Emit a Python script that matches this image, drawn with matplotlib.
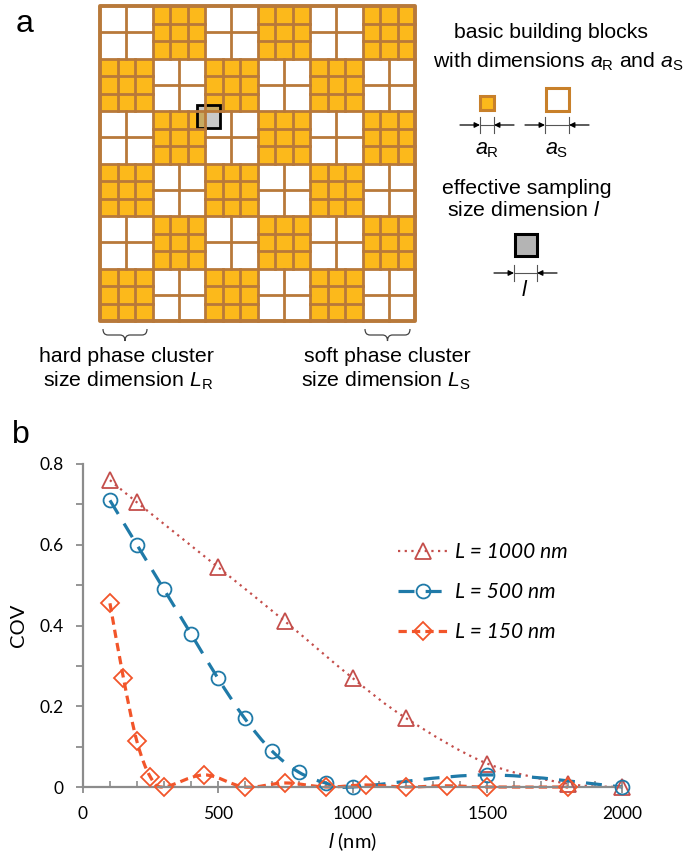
import matplotlib
matplotlib.use('Agg')
import matplotlib.pyplot as plt
from matplotlib.patches import Rectangle, PathPatch
from matplotlib.path import Path
from matplotlib.lines import Line2D
from matplotlib.ticker import MultipleLocator
import numpy as np

plt.rcParams['font.family'] = ['Liberation Sans', 'DejaVu Sans']
plt.rcParams['mathtext.fontset'] = 'custom'
plt.rcParams['mathtext.rm'] = 'Liberation Sans'
plt.rcParams['mathtext.it'] = 'Liberation Sans:italic'

# panel a: phase arrangement of the clusters (R = hard, S = soft)
phase_rows = ["SRSRSR", "RSRSRS", "SRSRSR", "RSRSRS", "SRSRSR", "RSRSRS"]
blocks_per_side = {'R': 3, 'S': 2}

# panel b: COV vs sampling size l
l_1000 = [100, 200, 500, 750, 1000, 1200, 1500, 1800, 2000]
cov_1000 = [0.76, 0.705, 0.545, 0.41, 0.27, 0.17, 0.058, 0.008, 0.0]
l_500 = [100, 200, 300, 400, 500, 600, 700, 800, 900, 1000, 1500, 2000]
cov_500 = [0.71, 0.60, 0.49, 0.38, 0.27, 0.17, 0.09, 0.037, 0.01, 0.0, 0.03, 0.0]
l_150 = [100, 150, 200, 250, 300, 450, 600, 750, 900, 1050, 1200, 1350, 1500, 1800]
cov_150 = [0.455, 0.27, 0.113, 0.025, 0.0, 0.03, 0.0, 0.01, 0.0, 0.005, 0.0, 0.003, 0.0, 0.0]
series_labels = ["L = 1000 nm", "L = 500 nm", "L = 150 nm"]

YELLOW = '#FCB91B'
BROWN = '#B8793A'
RED = '#C44E4B'
BLUE = '#1F7AA8'
ORANGE = '#F2552A'
AXIS_GRAY = '#8C8C8C'
TXT = 15.3

fig = plt.figure(figsize=(6.87, 8.64), dpi=100)

# overlay in pixel coordinates for the schematic
ov = fig.add_axes([0, 0, 1, 1])
ov.set_xlim(0, 687)
ov.set_ylim(864, 0)
ov.axis('off')

gx, gy, side = 100, 6, 315
n = len(phase_rows)
cell = side / n
for r, row in enumerate(phase_rows):
    for c, ph in enumerate(row):
        cx, cy = gx + c * cell, gy + r * cell
        ov.add_patch(Rectangle((cx, cy), cell, cell,
                               facecolor=YELLOW if ph == 'R' else 'white',
                               edgecolor='none'))
        k = blocks_per_side[ph]
        for i in range(1, k):
            ov.plot([cx + i * cell / k] * 2, [cy, cy + cell], color=BROWN, lw=2)
            ov.plot([cx, cx + cell], [cy + i * cell / k] * 2, color=BROWN, lw=2)
for i in range(1, n):
    ov.plot([gx + i * cell] * 2, [gy, gy + side], color=BROWN, lw=2)
    ov.plot([gx, gx + side], [gy + i * cell] * 2, color=BROWN, lw=2)
ov.add_patch(Rectangle((gx, gy), side, side, facecolor='none',
                       edgecolor=BROWN, lw=2.8, joinstyle='round'))

# sampling window on the grid
ov.add_patch(Rectangle((197, 105), 23, 23, facecolor=(0.62, 0.62, 0.62, 0.55),
                       edgecolor='black', lw=2))

ov.text(16, 32, 'a', fontsize=23, va='baseline')
ov.text(12, 443, 'b', fontsize=23, va='baseline')


def dimension(xa, xb, y):
    ov.plot([xa, xa], [y - 8, y + 8], color='#555555', lw=0.8)
    ov.plot([xb, xb], [y - 8, y + 8], color='#555555', lw=0.8)
    ov.plot([xa, xb], [y, y], color='#555555', lw=0.8)
    ov.annotate('', xy=(xa, y), xytext=(xa - 20, y),
                arrowprops=dict(arrowstyle='-|>', color='black', lw=0.9,
                                mutation_scale=8, shrinkA=0, shrinkB=0))
    ov.annotate('', xy=(xb, y), xytext=(xb + 20, y),
                arrowprops=dict(arrowstyle='-|>', color='black', lw=0.9,
                                mutation_scale=8, shrinkA=0, shrinkB=0))


def brace(x0, x1, ytop, ybot):
    xm = (x0 + x1) / 2
    ym = (ytop + ybot) / 2
    verts = [(x0, ytop), (x0, ym), (x0 + 5, ym), (xm - 5, ym), (xm, ym), (xm, ybot),
             (xm, ym), (xm + 5, ym), (x1 - 5, ym), (x1, ym), (x1, ytop)]
    codes = [Path.MOVETO, Path.CURVE3, Path.CURVE3, Path.LINETO, Path.CURVE3, Path.CURVE3,
             Path.CURVE3, Path.CURVE3, Path.LINETO, Path.CURVE3, Path.CURVE3]
    ov.add_patch(PathPatch(Path(verts, codes), facecolor='none',
                           edgecolor='#444444', lw=0.9))


# building block legend
ov.text(551, 32, 'basic building blocks', fontsize=TXT, ha='center', va='center')
ov.text(558, 62, r'with dimensions $a_\mathrm{R}$ and $a_\mathrm{S}$', fontsize=TXT,
        ha='center', va='center')
ov.add_patch(Rectangle((479.5, 95.5), 14, 14, facecolor=YELLOW, edgecolor='#C8802A', lw=2.2))
ov.add_patch(Rectangle((545.5, 88), 23, 23, facecolor='white', edgecolor='#C8802A', lw=2.2))
dimension(480, 494, 125)
dimension(545, 569, 125)
ov.text(487, 150, r'$a_\mathrm{R}$', fontsize=15.5, ha='center', va='center')
ov.text(557, 150, r'$a_\mathrm{S}$', fontsize=15.5, ha='center', va='center')

ov.text(527, 188, 'effective sampling', fontsize=TXT, ha='center', va='center')
ov.text(524, 211, r'size dimension $l$', fontsize=TXT, ha='center', va='center')
ov.add_patch(Rectangle((515, 234), 22, 22, facecolor='#B4B4B4', edgecolor='black', lw=2.2))
dimension(514, 537, 273)
ov.text(525, 291, r'$l$', fontsize=15.5, ha='center', va='center')

# cluster size labels
brace(103, 147, 329, 341)
brace(365, 410, 329, 341)
ov.text(126, 357, 'hard phase cluster', fontsize=TXT, ha='center', va='center')
ov.text(128, 381, r'size dimension $L_\mathrm{R}$', fontsize=TXT, ha='center', va='center')
ov.text(387, 357, 'soft phase cluster', fontsize=TXT, ha='center', va='center')
ov.text(386, 381, r'size dimension $L_\mathrm{S}$', fontsize=TXT, ha='center', va='center')

# panel b chart
ax = fig.add_axes([83 / 687, 77 / 864, 539 / 687, 323 / 864])
ax.patch.set_alpha(0)
ax.set_xlim(0, 2000)
ax.set_ylim(0, 0.8)


def smooth_path(x, y):
    pts = np.column_stack([x, y]).astype(float)
    verts, codes = [pts[0]], [Path.MOVETO]
    last = len(pts) - 1
    for i in range(last):
        p0, p1 = pts[max(i - 1, 0)], pts[i]
        p2, p3 = pts[i + 1], pts[min(i + 2, last)]
        verts += [p1 + (p2 - p0) / 6, p2 - (p3 - p1) / 6, p2]
        codes += [Path.CURVE4] * 3
    return Path(verts, codes)


styles = [
    (l_1000, cov_1000, RED, (0, (1, 2)), 1.6, '^', 11),
    (l_500, cov_500, BLUE, (0, (5, 3.5)), 2.3, 'o', 10),
    (l_150, cov_150, ORANGE, (0, (2.6, 1.6)), 2.3, 'D', 9),
]
handles = []
for (xs, ys, col, ls, lw, mk, ms), lab in zip(styles, series_labels):
    ax.add_patch(PathPatch(smooth_path(xs, ys), facecolor='none', edgecolor=col,
                           lw=lw, linestyle=ls, clip_on=False, zorder=2))
    ax.plot(xs, ys, ls='none', marker=mk, ms=ms, mfc='none', mec=col, mew=1.3,
            clip_on=False, zorder=3)
    handles.append(Line2D([], [], color=col, ls=ls, lw=lw, marker=mk, ms=ms,
                          mfc='none', mec=col, mew=1.3, label=lab))

ax.legend(handles=handles, loc='upper left', bbox_to_anchor=(0.565, 0.79),
          frameon=False, borderpad=0, handlelength=2.4, handletextpad=0.35,
          labelspacing=0.95, prop={'family': ['Lato', 'DejaVu Sans'],
                                   'style': 'italic', 'size': 15})

for s in ('top', 'right'):
    ax.spines[s].set_visible(False)
for s in ('left', 'bottom'):
    ax.spines[s].set_color(AXIS_GRAY)
    ax.spines[s].set_linewidth(1.6)

ax.set_xticks([0, 500, 1000, 1500, 2000])
ax.xaxis.set_minor_locator(MultipleLocator(100))
ax.set_yticks([0, 0.2, 0.4, 0.6, 0.8])
ax.set_yticklabels(['0', '0.2', '0.4', '0.6', '0.8'])
ax.yaxis.set_minor_locator(MultipleLocator(0.1))
ax.tick_params(axis='x', which='major', direction='inout', length=9, width=1.3,
               color=AXIS_GRAY, pad=9, labelsize=12.5)
ax.tick_params(axis='x', which='minor', direction='in', length=4, width=1.2,
               color=AXIS_GRAY)
ax.tick_params(axis='y', which='both', direction='out', length=5, width=1.3,
               color=AXIS_GRAY, pad=9, labelsize=12.5)
for t in ax.get_xticklabels() + ax.get_yticklabels():
    t.set_family(['Lato', 'DejaVu Sans'])

ax.set_ylabel('COV', fontsize=14.5, family=['Lato', 'DejaVu Sans'], labelpad=9)
ax.set_xlabel(r'$l$ (nm)', fontsize=14.5, family=['Lato', 'DejaVu Sans'], labelpad=6)

fig.savefig('out.png', dpi=100)
